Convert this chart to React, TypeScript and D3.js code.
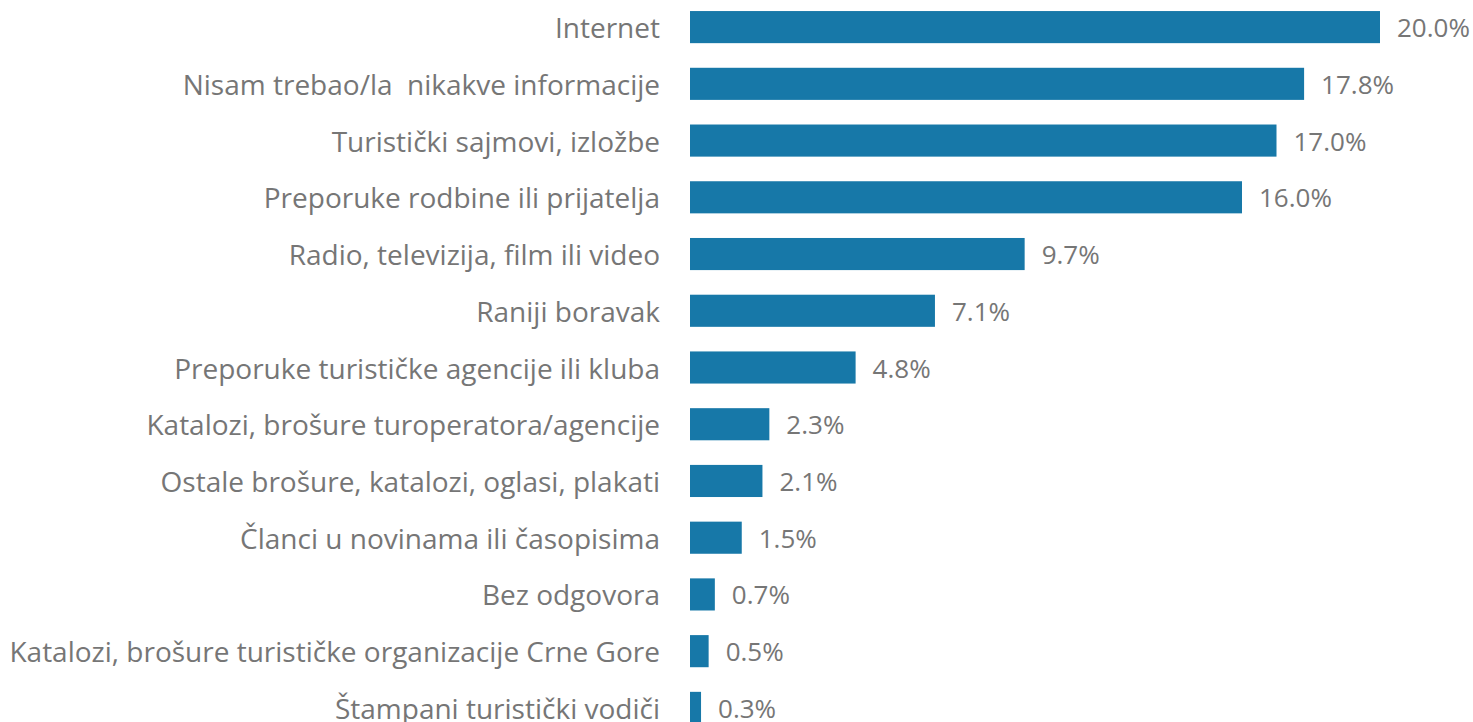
import React from "react";
import * as d3 from "d3";

const categories = [
  "Internet",
  "Nisam trebao/la  nikakve informacije",
  "Turistički sajmovi, izložbe",
  "Preporuke rodbine ili prijatelja",
  "Radio, televizija, film ili video",
  "Raniji boravak",
  "Preporuke turističke agencije ili kluba",
  "Katalozi, brošure turoperatora/agencije",
  "Ostale brošure, katalozi, oglasi, plakati",
  "Članci u novinama ili časopisima",
  "Bez odgovora",
  "Katalozi, brošure turističke organizacije Crne Gore",
  "Štampani turistički vodiči",
];

const values = [20.0, 17.8, 17.0, 16.0, 9.7, 7.1, 4.8, 2.3, 2.1, 1.5, 0.72, 0.54, 0.32];

const width = 1473;
const height = 722;
const barColor = "#1778A8";
const textColor = "#767676";
const font = "'Open Sans', sans-serif";

export default function App() {
  const x0 = 690;
  const xScale = d3.scaleLinear().domain([0, 20]).range([x0, 1380]);

  // 13 rows, last one runs off the bottom edge
  const yScale = d3
    .scaleBand<string>()
    .domain(categories)
    .range([-0.3, 735.3])
    .paddingInner(0.434)
    .paddingOuter(0.2);

  const bw = yScale.bandwidth();

  return (
    <svg
      width={width}
      height={height}
      style={{ position: "absolute", left: 0, top: 0, background: "#fff" }}
      fontFamily={font}
    >
      {categories.map((c, i) => {
        const y = yScale(c) ?? 0;
        const v = values[i];
        return (
          <g key={c}>
            <rect x={x0} y={y} width={xScale(v) - x0} height={bw} fill={barColor} />
            <text
              x={x0 - 30}
              y={y + bw / 2}
              textAnchor="end"
              dominantBaseline="central"
              fontSize={28}
              fill={textColor}
              style={{ whiteSpace: "pre" }}
            >
              {c}
            </text>
            <text
              x={xScale(v) + 17}
              y={y + bw / 2}
              dominantBaseline="central"
              fontSize={26}
              fill={textColor}
            >
              {d3.format(".1f")(v) + "%"}
            </text>
          </g>
        );
      })}
    </svg>
  );
}
